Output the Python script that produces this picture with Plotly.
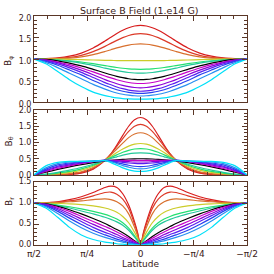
import numpy as np
import plotly.graph_objects as go

# latitude grids (degrees, half profile; curves are symmetric about the equator)
lat_a = [0, 5, 10, 15, 20, 25, 30, 40, 50, 60, 70, 80, 90]
lat_b = [0, 2.5, 5, 10, 15, 20, 25, 30, 40, 50, 60, 70, 80, 90]

names = ["red", "red2", "orange", "yellow", "green", "teal", "black",
         "magenta", "purple", "violet", "blue", "dodger", "cyan"]
colors = ["#d81e1e", "#dc3a28", "#d8702e", "#cccc2a", "#22e070", "#22c89a", "#000000",
          "#c800c8", "#8c00d8", "#5a1ef0", "#2840f0", "#2890f0", "#00e0f8"]

# top panel  (lat_a)
b_top = {
    "red":     [1.78, 1.767, 1.728, 1.667, 1.591, 1.506, 1.418, 1.257, 1.138, 1.065, 1.026, 1.009, 1.0],
    "red2":    [1.59, 1.579, 1.546, 1.496, 1.434, 1.364, 1.294, 1.172, 1.086, 1.037, 1.014, 1.004, 1.0],
    "orange":  [1.35, 1.343, 1.324, 1.294, 1.257, 1.216, 1.175, 1.102, 1.051, 1.022, 1.008, 1.002, 1.0],
    "yellow":  [0.96, 0.96, 0.961, 0.962, 0.964, 0.967, 0.97, 0.977, 0.985, 0.992, 0.997, 0.999, 1.0],
    "green":   [0.76, 0.763, 0.772, 0.785, 0.803, 0.824, 0.846, 0.891, 0.930, 0.959, 0.979, 0.990, 1.0],
    "teal":    [0.67, 0.674, 0.686, 0.705, 0.729, 0.757, 0.788, 0.850, 0.904, 0.944, 0.971, 0.986, 1.0],
    "black":   [0.52, 0.525, 0.54, 0.565, 0.597, 0.634, 0.675, 0.76, 0.84, 0.905, 0.958, 0.99, 1.0],
    "magenta": [0.43, 0.436, 0.454, 0.482, 0.518, 0.56, 0.605, 0.70, 0.79, 0.87, 0.93, 0.98, 1.0],
    "purple":  [0.33, 0.337, 0.356, 0.386, 0.425, 0.47, 0.52, 0.635, 0.74, 0.835, 0.915, 0.97, 1.0],
    "violet":  [0.25, 0.257, 0.278, 0.31, 0.35, 0.40, 0.45, 0.57, 0.69, 0.795, 0.885, 0.96, 1.0],
    "blue":    [0.20, 0.206, 0.225, 0.25, 0.285, 0.33, 0.385, 0.50, 0.63, 0.745, 0.855, 0.945, 1.0],
    "dodger":  [0.14, 0.145, 0.16, 0.18, 0.21, 0.25, 0.30, 0.41, 0.54, 0.67, 0.80, 0.92, 1.0],
    "cyan":    [0.066, 0.068, 0.072, 0.08, 0.095, 0.12, 0.15, 0.23, 0.36, 0.52, 0.71, 0.89, 1.0],
}

# middle panel B_theta (lat_a)
b_theta = {
    "red":     [1.77, 1.70, 1.50, 1.22, 0.92, 0.65, 0.45, 0.18, 0.06, 0.02, 0.008, 0.002, 0],
    "red2":    [1.56, 1.50, 1.34, 1.12, 0.88, 0.65, 0.46, 0.20, 0.08, 0.03, 0.01, 0.003, 0],
    "orange":  [1.30, 1.26, 1.15, 0.98, 0.80, 0.62, 0.46, 0.23, 0.10, 0.045, 0.02, 0.005, 0],
    "yellow":  [0.97, 0.95, 0.89, 0.80, 0.69, 0.57, 0.46, 0.27, 0.15, 0.08, 0.04, 0.015, 0],
    "green":   [0.81, 0.80, 0.76, 0.70, 0.62, 0.54, 0.46, 0.30, 0.19, 0.11, 0.06, 0.02, 0],
    "teal":    [0.68, 0.67, 0.65, 0.61, 0.56, 0.51, 0.45, 0.33, 0.23, 0.15, 0.08, 0.03, 0],
    "black":   [0.50, 0.498, 0.492, 0.483, 0.47, 0.453, 0.433, 0.383, 0.321, 0.25, 0.171, 0.087, 0],
    "magenta": [0.45, 0.45, 0.45, 0.45, 0.45, 0.45, 0.45, 0.41, 0.35, 0.28, 0.20, 0.11, 0],
    "purple":  [0.40, 0.40, 0.41, 0.42, 0.43, 0.44, 0.45, 0.42, 0.37, 0.31, 0.24, 0.13, 0],
    "violet":  [0.35, 0.355, 0.37, 0.39, 0.41, 0.43, 0.45, 0.42, 0.39, 0.34, 0.27, 0.15, 0],
    "blue":    [0.26, 0.27, 0.30, 0.34, 0.38, 0.42, 0.45, 0.43, 0.40, 0.37, 0.31, 0.18, 0],
    "dodger":  [0.19, 0.20, 0.24, 0.29, 0.35, 0.41, 0.45, 0.43, 0.42, 0.40, 0.35, 0.22, 0],
    "cyan":    [0.11, 0.12, 0.16, 0.22, 0.30, 0.38, 0.44, 0.43, 0.42, 0.42, 0.39, 0.28, 0],
}

# bottom panel B_r (lat_b)
b_r = {
    "red":     [0, 0.30, 0.55, 0.95, 1.22, 1.37, 1.40, 1.37, 1.25, 1.15, 1.08, 1.03, 1.01, 1.0],
    "red2":    [0, 0.27, 0.50, 0.87, 1.09, 1.21, 1.26, 1.25, 1.17, 1.10, 1.05, 1.02, 1.005, 1.0],
    "orange":  [0, 0.22, 0.42, 0.74, 0.93, 1.03, 1.08, 1.10, 1.08, 1.05, 1.03, 1.01, 1.0, 1.0],
    "yellow":  [0, 0.16, 0.30, 0.53, 0.68, 0.78, 0.84, 0.88, 0.93, 0.96, 0.98, 0.99, 1.0, 1.0],
    "green":   [0, 0.11, 0.22, 0.40, 0.53, 0.62, 0.68, 0.73, 0.80, 0.86, 0.91, 0.95, 0.985, 1.0],
    "teal":    [0, 0.10, 0.19, 0.35, 0.47, 0.55, 0.61, 0.66, 0.74, 0.81, 0.88, 0.94, 0.98, 1.0],
    "black":   [0, 0.05, 0.10, 0.20, 0.29, 0.37, 0.44, 0.51, 0.63, 0.74, 0.84, 0.92, 0.98, 1.0],
    "magenta": [0, 0.04, 0.08, 0.16, 0.24, 0.31, 0.38, 0.44, 0.56, 0.68, 0.80, 0.90, 0.97, 1.0],
    "purple":  [0, 0.03, 0.06, 0.12, 0.18, 0.25, 0.31, 0.37, 0.49, 0.62, 0.75, 0.87, 0.96, 1.0],
    "violet":  [0, 0.02, 0.04, 0.09, 0.14, 0.19, 0.25, 0.30, 0.42, 0.56, 0.70, 0.84, 0.95, 1.0],
    "blue":    [0, 0.015, 0.03, 0.06, 0.10, 0.14, 0.19, 0.24, 0.35, 0.49, 0.64, 0.80, 0.93, 1.0],
    "dodger":  [0, 0.01, 0.02, 0.04, 0.07, 0.10, 0.14, 0.18, 0.28, 0.41, 0.57, 0.75, 0.91, 1.0],
    "cyan":    [0, 0.002, 0.005, 0.01, 0.02, 0.03, 0.05, 0.07, 0.13, 0.24, 0.42, 0.66, 0.88, 1.0],
}

x_tickvals = [np.pi / 2, np.pi / 4, 0, -np.pi / 4, -np.pi / 2]
x_ticktext = ["π/2", "π/4", "0", "−π/4", "−π/2"]


def full(lat, vals):
    lat = np.asarray(lat, float)
    vals = np.asarray(vals, float)
    x = np.concatenate([lat[::-1], -lat[1:]])
    y = np.concatenate([vals[::-1], vals[1:]])
    return np.radians(x), y


W = H = 274
AX = "#5a3626"
TXT = "#3a2016"
FONT = "DejaVu Sans"

fig = go.Figure()
panels = [(b_top, lat_a, "x", "y"), (b_theta, lat_a, "x2", "y2"), (b_r, lat_b, "x3", "y3")]
for data, lat, xa, ya in panels:
    for n, c in zip(names, colors):
        x, y = full(lat, data[n])
        fig.add_trace(go.Scatter(x=x, y=y, mode="lines", xaxis=xa, yaxis=ya,
                                 line=dict(color=c, width=1.2, shape="spline", smoothing=0.8),
                                 showlegend=False, hoverinfo="skip"))


def py(px):
    return 1 - px / H


xdom = [34 / W, 247 / W]
ydoms = [[py(102), py(16)], [py(175), py(110)], [py(245), py(182)]]
yranges = [[0, 2.0], [0, 2.0], [0, 1.5]]
ylabshift = [2, 0, -1]

common_x = dict(range=[np.pi / 2, -np.pi / 2], domain=xdom, showline=True, linecolor=AX,
                linewidth=1, mirror="allticks", ticks="inside", ticklen=5, tickcolor=AX,
                tickvals=x_tickvals, ticktext=x_ticktext, showgrid=False, zeroline=False,
                automargin=False, ticklabeloverflow="allow",
                minor=dict(ticks="inside", ticklen=3, tickcolor=AX, dtick=np.pi / 16,
                           tick0=0, showgrid=False),
                tickfont=dict(family=FONT, size=9, color=TXT))
common_y = dict(showline=True, linecolor=AX, linewidth=1, mirror="allticks", ticks="inside",
                ticklen=5, tickcolor=AX, dtick=0.5, tick0=0, tickformat=".1f",
                showgrid=False, zeroline=False, automargin=False, ticklabeloverflow="allow",
                minor=dict(ticks="inside", ticklen=3, tickcolor=AX, dtick=0.1, showgrid=False),
                tickfont=dict(family=FONT, size=8, color=TXT))

layout = dict(width=W, height=H, margin=dict(l=0, r=0, t=0, b=0, pad=0, autoexpand=False),
              paper_bgcolor="white", plot_bgcolor="white", showlegend=False,
              template="none")
for i in range(3):
    sx = "" if i == 0 else str(i + 1)
    xa = dict(common_x, anchor="y" + sx, showticklabels=(i == 2))
    ya = dict(common_y, anchor="x" + sx, domain=ydoms[i], range=yranges[i],
              ticklabelshift=ylabshift[i])
    layout["xaxis" + sx] = xa
    layout["yaxis" + sx] = ya
fig.update_layout(**layout)

ann = [
    dict(text="Surface B Field (1.e14 G)", x=139.5 / W, y=py(10.5), size=9.5),
    dict(text="Latitude", x=140.5 / W, y=py(264), size=9),
]
for a in ann:
    fig.add_annotation(text=a["text"], x=a["x"], y=a["y"], xref="paper", yref="paper",
                       showarrow=False, xanchor="center", yanchor="middle",
                       font=dict(family=FONT, size=a["size"], color=TXT))
ytitles = [("B<sub>φ</sub>", 61), ("B<sub>θ</sub>", 141.5), ("B<sub>r</sub>", 202)]
for t, yc in ytitles:
    fig.add_annotation(text=t, x=9 / W, y=py(yc), xref="paper", yref="paper",
                       showarrow=False, textangle=-90, xanchor="center", yanchor="middle",
                       font=dict(family=FONT, size=9, color=TXT))

fig.write_html("out.html", config={"displayModeBar": False, "staticPlot": True},
               post_script="document.body.style.margin='0';")
